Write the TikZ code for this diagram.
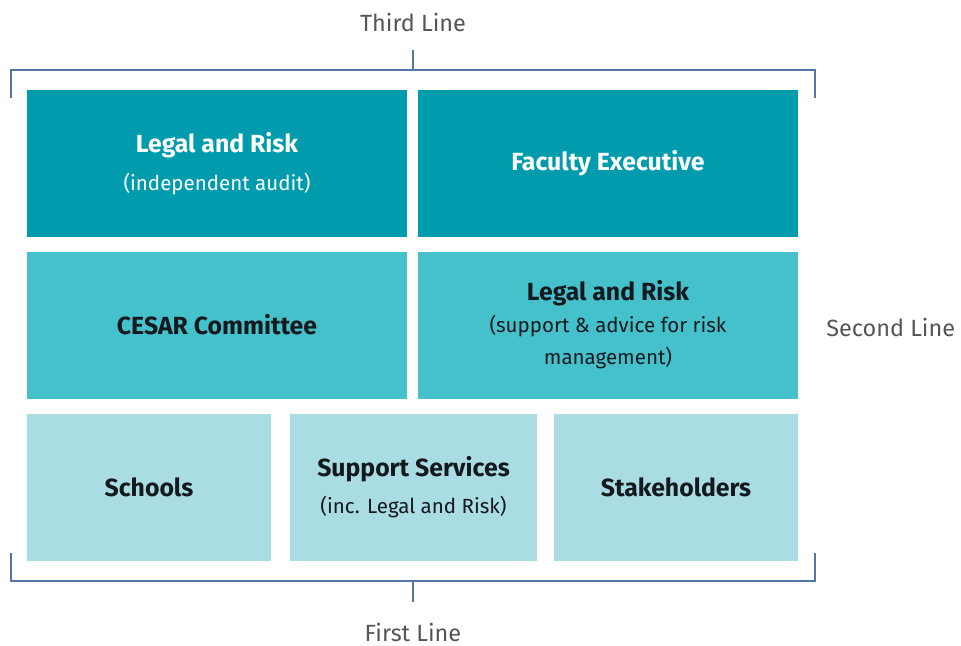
\documentclass[tikz,border=0pt]{standalone}
\usepackage{fontspec}
\setmainfont{Fira Sans}
\usetikzlibrary{positioning, calc}
\definecolor{tealdark}{RGB}{0,155,173}
\definecolor{tealmid}{RGB}{69,193,204}
\definecolor{teallight}{RGB}{169,221,227}
\definecolor{bracketblue}{RGB}{84,117,168}
\definecolor{labelgray}{RGB}{85,85,85}
\definecolor{boxtext}{RGB}{20,25,30}
\newcommand{\boxhead}[1]{{\fontsize{18.6}{24}\selectfont\bfseries #1}}

\begin{document}
\begin{tikzpicture}[
		x=0.75pt, y=-0.75pt,
		box/.style={rectangle, inner sep=0pt, align=center, minimum height=110.25pt, font=\fontsize{15.4}{24}\selectfont},
		topbox/.style={box, fill=tealdark, text=white, minimum width=285pt},
		midbox/.style={box, fill=tealmid, text=boxtext, minimum width=285pt},
		lowbox/.style={box, fill=teallight, text=boxtext},
		bracket/.style={draw=bracketblue, line width=1.3pt},
		linelabel/.style={text=labelgray, inner sep=0pt, font=\fontsize{17.6}{20}\selectfont}
		]
		\useasboundingbox (0,0) rectangle (961,646);
		
		% third line of defence
		\node[topbox] (audit) at (217, 163.5) {\boxhead{Legal and Risk}\\[4pt](independent audit)};
		\node[topbox] (exec) at (608, 163.5) {\boxhead{Faculty Executive}};
		
		% second line of defence
		\node[midbox] (cesar) at (217, 325) {\boxhead{CESAR Committee}};
		\node[midbox] (advice) at (608, 325) {\boxhead{Legal and Risk}\\(support \& advice for risk\\management)};
		
		% first line of defence
		\node[lowbox, minimum width=183pt] (schools) at (149, 487) {\boxhead{Schools}};
		\node[lowbox, minimum width=185.25pt] (support) at (413.5, 487) {\boxhead{Support Services}\\[4pt](inc. Legal and Risk)};
		\node[lowbox, minimum width=183pt] (stake) at (676, 487) {\boxhead{Stakeholders}};
		
		\node[linelabel] (third) at (413, 22) {Third Line};
		\node[linelabel, anchor=west] (second) at (826, 327) {Second Line};
		\node[linelabel] (first) at (413, 632) {First Line};
		
		\coordinate (tl) at (11, 70);
		\coordinate (tr) at (815, 70);
		\coordinate (bl) at (11, 581);
		\coordinate (br) at (815, 581);
		\draw[bracket] ($(tl)+(0,28)$) -- (tl) -- (tr) -- ($(tr)+(0,28)$);
		\draw[bracket] (413,70) -- (413,50);
		\draw[bracket] ($(bl)+(0,-28)$) -- (bl) -- (br) -- ($(br)+(0,-28)$);
		\draw[bracket] (413,581) -- (413,602);
		
\end{tikzpicture}
\end{document}
